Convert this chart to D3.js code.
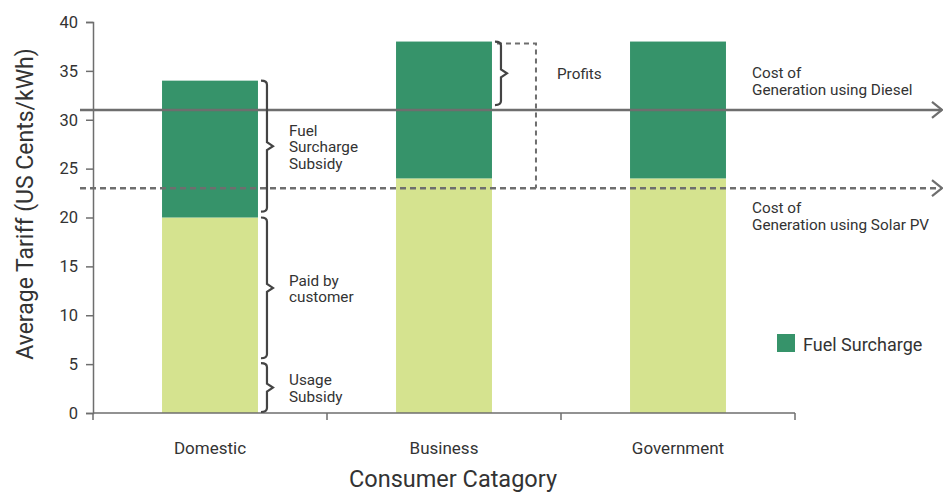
<!DOCTYPE html>
<html>
<head>
<meta charset="utf-8">
<script src="https://cdn.jsdelivr.net/npm/d3@7"></script>
<style>
  body { margin: 0; background: #fff; }
  text { font-family: Roboto, "Noto Sans", sans-serif; fill: #333; }
</style>
</head>
<body>
<script>
// chart values
const categories = ["Domestic", "Business", "Government"];
const paidValues = [20, 24, 24];          // light part of each bar
const surchargeValues = [14, 14, 14];     // fuel surcharge on top
const yTicks = [0, 5, 10, 15, 20, 25, 30, 35, 40];
const dieselCost = 31;
const solarCost = 23;

// brace annotations: category, from, to, label lines
const braceCats = ["Domestic", "Domestic", "Domestic", "Business"];
const braceFrom = [20.6, 5.6, 0.1, 31.5];
const braceTo = [34, 20, 5.1, 38];
const braceLabels = [["Fuel", "Surcharge", "Subsidy"], ["Paid by", "customer"], ["Usage", "Subsidy"], ["Profits"]];

const width = 943, height = 493;
const margin = {left: 93, top: 22, right: 148, bottom: 80};

const svg = d3.select("body").append("svg")
  .attr("width", width)
  .attr("height", height);

const x = d3.scaleBand()
  .domain(categories)
  .range([margin.left, width - margin.right])
  .paddingInner(0)
  .paddingOuter(0);

const y = d3.scaleLinear()
  .domain([0, 40])
  .range([height - margin.bottom, margin.top]);

const barW = x.bandwidth() * 0.41;
const barX = c => x(c) + (x.bandwidth() - barW) / 2;

// bars
svg.append("g").selectAll("rect")
  .data(categories)
  .enter().append("rect")
  .attr("x", barX)
  .attr("y", (d, i) => y(paidValues[i]))
  .attr("width", barW)
  .attr("height", (d, i) => y(0) - y(paidValues[i]))
  .attr("fill", "#d5e38f");

svg.append("g").selectAll("rect")
  .data(categories)
  .enter().append("rect")
  .attr("x", barX)
  .attr("y", (d, i) => y(paidValues[i] + surchargeValues[i]))
  .attr("width", barW)
  .attr("height", (d, i) => y(paidValues[i]) - y(paidValues[i] + surchargeValues[i]))
  .attr("fill", "#36936a");

// axes
const axisColor = "#6e6e6e";
const gY = svg.append("g")
  .attr("transform", "translate(" + margin.left + ",0)")
  .call(d3.axisLeft(y).tickValues(yTicks).tickSize(7).tickPadding(8));
gY.selectAll("text").style("font-size", "16.5px").attr("fill", "#333");

const xTicks = d3.axisBottom(x).tickSize(0).tickPadding(29);
const gX = svg.append("g")
  .attr("transform", "translate(0," + y(0) + ")")
  .call(xTicks);
gX.selectAll("text").style("font-size", "17px").attr("fill", "#333");
// band boundary ticks
gX.selectAll(".edge")
  .data(categories.map(c => x(c)).concat([x.range()[1]]))
  .enter().append("line")
  .attr("x1", d => d).attr("x2", d => d)
  .attr("y1", 0).attr("y2", 7);
svg.selectAll(".domain, .tick line, .edge, g line").attr("stroke", axisColor).attr("stroke-width", 1.5);
gX.select(".domain").attr("d", "M" + x.range()[0] + ",0H" + x.range()[1]);

// axis titles
svg.append("text")
  .attr("transform", "translate(33," + 204 + ") rotate(-90)")
  .attr("text-anchor", "middle")
  .style("font-size", "23px")
  .text("Average Tariff (US Cents/kWh)");

svg.append("text")
  .attr("x", 453)
  .attr("y", 487)
  .attr("text-anchor", "middle")
  .style("font-size", "23.5px")
  .text("Consumer Catagory");

// reference lines
const lineStart = 80, lineEnd = 942;
function refLine(v, dashed) {
  svg.append("line")
    .attr("x1", lineStart).attr("x2", lineEnd)
    .attr("y1", y(v)).attr("y2", y(v))
    .attr("stroke", axisColor)
    .attr("stroke-width", 2.5)
    .attr("stroke-dasharray", dashed ? "6,4" : null);
  svg.append("path")
    .attr("d", "M" + (lineEnd - 10) + "," + (y(v) - 8) + "L" + lineEnd + "," + y(v) + "L" + (lineEnd - 10) + "," + (y(v) + 8))
    .attr("fill", "none")
    .attr("stroke", axisColor)
    .attr("stroke-width", 2.2);
}
refLine(dieselCost, false);
refLine(solarCost, true);

// profits dashed bracket
const bizRight = barX("Business") + barW;
svg.append("path")
  .attr("d", "M" + (bizRight + 5) + "," + y(37.8) + "H" + (bizRight + 44) + "V" + y(solarCost))
  .attr("fill", "none")
  .attr("stroke", axisColor)
  .attr("stroke-width", 2)
  .attr("stroke-dasharray", "5,4");

// curly braces
function bracePath(x0, y0, y1, w) {
  const ym = (y0 + y1) / 2;
  const r = 4;
  return "M" + x0 + "," + y0 +
    "Q" + (x0 + w / 2) + "," + y0 + " " + (x0 + w / 2) + "," + (y0 + r) +
    "V" + (ym - r) +
    "L" + (x0 + w) + "," + ym +
    "L" + (x0 + w / 2) + "," + (ym + r) +
    "V" + (y1 - r) +
    "Q" + (x0 + w / 2) + "," + y1 + " " + x0 + "," + y1;
}
braceCats.forEach((c, i) => {
  const bx = barX(c) + barW + 3;
  const top = y(braceTo[i]), bot = y(braceFrom[i]);
  svg.append("path")
    .attr("d", bracePath(bx, top, bot, 12))
    .attr("fill", "none")
    .attr("stroke", "#444")
    .attr("stroke-width", 2.2);
  const lines = braceLabels[i];
  const lx = c === "Business" ? bx + 62 : bx + 28;
  const mid = (top + bot) / 2;
  svg.append("text")
    .attr("x", lx)
    .attr("y", mid - (lines.length - 1) * 8.3 + 6)
    .style("font-size", "15.3px")
    .selectAll("tspan")
    .data(lines)
    .enter().append("tspan")
    .attr("x", lx)
    .attr("dy", (d, j) => j === 0 ? 0 : 16.6)
    .text(d => d);
});

// reference line labels
const refLabels = [["Cost of", "Generation using Diesel"], ["Cost of", "Generation using Solar PV"]];
const refLabelY = [78, 213];
refLabels.forEach((lines, i) => {
  svg.append("text")
    .attr("x", 752)
    .attr("y", refLabelY[i])
    .style("font-size", "15.3px")
    .selectAll("tspan")
    .data(lines)
    .enter().append("tspan")
    .attr("x", 752)
    .attr("dy", (d, j) => j === 0 ? 0 : 16.5)
    .text(d => d);
});

// legend
svg.append("rect")
  .attr("x", 777).attr("y", 334)
  .attr("width", 18).attr("height", 18)
  .attr("fill", "#36936a");
svg.append("text")
  .attr("x", 803).attr("y", 351)
  .style("font-size", "18px")
  .text("Fuel Surcharge");
</script>
</body>
</html>
